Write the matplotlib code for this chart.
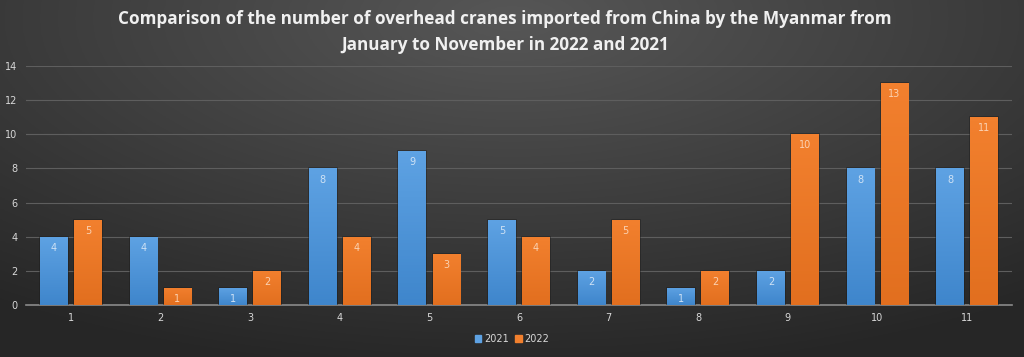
import matplotlib
matplotlib.use("Agg")
import matplotlib.pyplot as plt
import numpy as np

months = [1, 2, 3, 4, 5, 6, 7, 8, 9, 10, 11]
v2021 = [4, 4, 1, 8, 9, 5, 2, 1, 2, 8, 8]
v2022 = [5, 1, 2, 4, 3, 4, 5, 2, 10, 13, 11]
yticks = [0, 2, 4, 6, 8, 10, 12, 14]

W, H = 1024, 357
fig = plt.figure(figsize=(W/100, H/100), dpi=100)

# background radial gradient
bg = fig.add_axes([0, 0, 1, 1])
yy, xx = np.mgrid[0:1:200j, 0:1:400j]
r = np.sqrt(((xx-0.5)/0.75)**2 + ((yy-0.05)/0.9)**2)
val = np.clip(0.34 - 0.17*r, 0.15, 0.34)
bg.imshow(np.dstack([val, val, val]), extent=[0, 1, 0, 1], aspect='auto', origin='upper')
bg.axis('off')

ax = fig.add_axes([26/W, 1-305/H, (1012-26)/W, (305-66)/H])
ax.patch.set_alpha(0)

x = np.arange(len(months)) + 1
bw = 0.31
gap = 0.035
blue_top = np.array([0x5e, 0xa2, 0xe3])/255
blue_bot = np.array([0x3f, 0x86, 0xcc])/255
or_top = np.array([0xf2, 0x80, 0x2e])/255
or_bot = np.array([0xe2, 0x6f, 0x1f])/255

def grad_bars(xs, vals, ctop, cbot, lblcol):
    bars = ax.bar(xs, vals, width=bw, color=ctop, edgecolor=(0.1, 0.1, 0.1, 0.5), linewidth=1.2, zorder=3)
    for b, v in zip(bars, vals):
        x0, y0 = b.get_x(), b.get_y()
        w, h = b.get_width(), b.get_height()
        g = np.linspace(0, 1, 50)[:, None]
        img = ctop[None, :]*(1-g) + cbot[None, :]*g
        img = img[:, None, :]
        im = ax.imshow(img, extent=[x0, x0+w, y0, y0+h], aspect='auto', origin='upper', zorder=4)
        im.set_clip_path(b)
        ax.text(x0 + w/2, v - 0.65, str(v), ha='center', va='center', color=lblcol, fontsize=7, zorder=5)
    return bars

grad_bars(x - bw/2 - gap, v2021, blue_top, blue_bot, '#cfe2f5')
grad_bars(x + bw/2 + gap, v2022, or_top, or_bot, '#fbd2b2')

ax.set_xlim(0.5, 11.5)
ax.set_ylim(0, 14)
ax.set_yticks(yticks)
ax.set_xticks(x)
ax.set_xticklabels([str(m) for m in months])
ax.yaxis.grid(True, color='#5e5e5e', linewidth=0.8, zorder=0)
ax.set_axisbelow(True)
for s in ['top', 'right', 'left']:
    ax.spines[s].set_visible(False)
ax.spines['bottom'].set_color('#8a8a8a')
ax.spines['bottom'].set_linewidth(1.2)
ax.tick_params(axis='both', length=0, colors='#d8d8d8', labelsize=7)
ax.tick_params(axis='y', pad=6)
ax.tick_params(axis='x', pad=6)

fig.text(0.493, 1-32/H, "Comparison of the number of overhead cranes imported from China by the Myanmar from\nJanuary to November in 2022 and 2021",
         ha='center', va='center', color='#f0f0f0', fontsize=12.3, fontweight='bold', family='Open Sans', linespacing=1.55)

from matplotlib.patches import Patch
handles = [Patch(color=blue_top, label='2021'), Patch(color=or_top, label='2022')]
leg = fig.legend(handles=handles, loc='center', bbox_to_anchor=(0.5, 1-339/H), ncol=2, frameon=False,
                 fontsize=7, labelcolor='#d8d8d8', handlelength=0.7, handleheight=0.7, handletextpad=0.3, columnspacing=0.6)

fig.savefig("out.png", dpi=100)
